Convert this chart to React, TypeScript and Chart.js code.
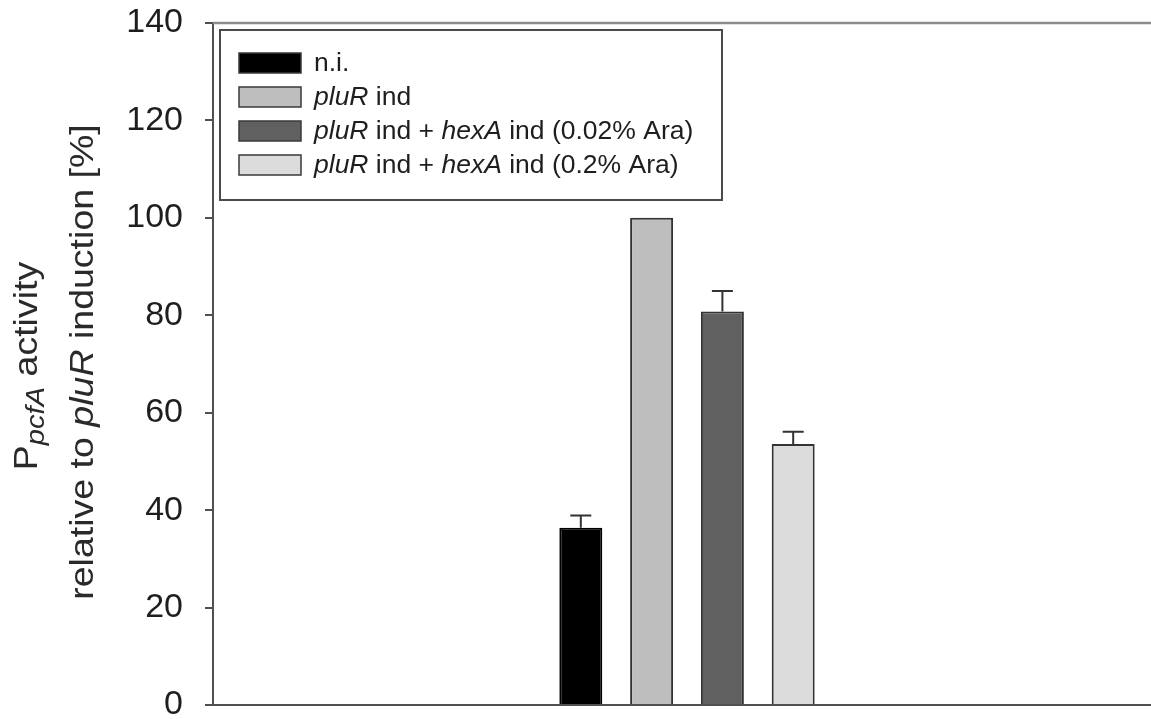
import React, { useEffect, useRef } from "react";
import { Chart, registerables } from "chart.js";

Chart.register(...registerables);

// ---- data ----
const categories = [""];
// "*...*" marks italic runs (gene names)
const seriesLabels = [
  "n.i.",
  "*pluR* ind",
  "*pluR* ind + *hexA* ind (0.02% Ara)",
  "*pluR* ind + *hexA* ind (0.2% Ara)",
];
const seriesValues = [36.4, 100, 80.8, 53.6];
const seriesErrors = [2.5, 0, 4.2, 2.5];
const seriesColors = ["#000000", "#bebebe", "#606060", "#dcdcdc"];
const yTicks = [0, 20, 40, 60, 80, 100, 120, 140];

// ---- styling / layout ----
const FONT = "'Liberation Sans', Arial, Helvetica, sans-serif";
const TEXT = "#1e1e1e";
const AXIS = "#505050";

type Seg = { text: string; italic: boolean };
function parseSegs(label: string): Seg[] {
  const parts = label.split("*");
  return parts
    .map((t, i) => ({ text: t, italic: i % 2 === 1 }))
    .filter((s) => s.text.length > 0);
}

function drawSegs(ctx: CanvasRenderingContext2D, segs: Seg[], x: number, y: number, size: number) {
  let cx = x;
  for (const s of segs) {
    ctx.font = `${s.italic ? "italic " : ""}${size}px ${FONT}`;
    ctx.fillText(s.text, cx, y);
    cx += ctx.measureText(s.text).width;
  }
}

const decorations = {
  id: "decorations",
  afterDatasetsDraw(chart: any) {
    const ctx: CanvasRenderingContext2D = chart.ctx;
    const area = chart.chartArea;
    const y = chart.scales.y;
    ctx.save();

    // frame lines: top (lighter) and bottom
    ctx.strokeStyle = "#8c8c8c";
    ctx.lineWidth = 2.5;
    ctx.beginPath();
    ctx.moveTo(area.left, area.top);
    ctx.lineTo(chart.width, area.top);
    ctx.stroke();

    ctx.strokeStyle = AXIS;
    ctx.lineWidth = 2;
    ctx.beginPath();
    ctx.moveTo(area.left - 8, area.bottom);
    ctx.lineTo(chart.width, area.bottom);
    ctx.stroke();

    // upward error bars
    ctx.strokeStyle = "#333333";
    ctx.lineWidth = 2;
    chart.data.datasets.forEach((ds: any, i: number) => {
      const err = seriesErrors[i];
      if (!err) return;
      const meta = chart.getDatasetMeta(i);
      meta.data.forEach((bar: any, j: number) => {
        const v = ds.data[j];
        const yTop = y.getPixelForValue(v + err);
        ctx.beginPath();
        ctx.moveTo(bar.x, bar.y);
        ctx.lineTo(bar.x, yTop);
        ctx.moveTo(bar.x - 10.5, yTop);
        ctx.lineTo(bar.x + 10.5, yTop);
        ctx.stroke();
      });
    });

    // legend box
    const lx = 220, ly = 30, lw = 502, lh = 170;
    ctx.fillStyle = "#ffffff";
    ctx.fillRect(lx, ly, lw, lh);
    ctx.strokeStyle = "#4a4a4a";
    ctx.lineWidth = 2;
    ctx.strokeRect(lx, ly, lw, lh);
    const rowY = [63, 97, 131, 165];
    chart.data.datasets.forEach((ds: any, i: number) => {
      const cy = rowY[i];
      ctx.fillStyle = seriesColors[i];
      ctx.fillRect(239, cy - 10, 62, 20);
      ctx.strokeStyle = "#3a3a3a";
      ctx.lineWidth = 1.5;
      ctx.strokeRect(239, cy - 10, 62, 20);
      ctx.fillStyle = TEXT;
      ctx.textBaseline = "middle";
      ctx.textAlign = "left";
      drawSegs(ctx, parseSegs(seriesLabels[i]), 314, cy + 1, 26.5);
    });

    // rotated y-axis title (two lines, with subscript and italics)
    ctx.fillStyle = "#2a2a2a";
    ctx.textAlign = "left";
    ctx.textBaseline = "alphabetic";
    const big = 33.5, sub = 26, stretch = 1.12;
    // line 1: P_pcfA activity
    const l1 = [
      { text: "P", italic: false, size: big, dy: 0 },
      { text: "pcfA", italic: true, size: sub, dy: 7 },
      { text: " activity", italic: false, size: big, dy: 0 },
    ];
    let w1 = 0;
    for (const s of l1) {
      ctx.font = `${s.italic ? "italic " : ""}${s.size}px ${FONT}`;
      w1 += ctx.measureText(s.text).width;
    }
    ctx.save();
    ctx.translate(37, 366);
    ctx.rotate(-Math.PI / 2);
    ctx.scale(stretch, 1);
    let cx = -w1 / 2;
    for (const s of l1) {
      ctx.font = `${s.italic ? "italic " : ""}${s.size}px ${FONT}`;
      ctx.fillText(s.text, cx, s.dy);
      cx += ctx.measureText(s.text).width;
    }
    ctx.restore();

    // line 2: relative to pluR induction [%]
    const l2 = parseSegs("relative to *pluR* induction [%]");
    let w2 = 0;
    for (const s of l2) {
      ctx.font = `${s.italic ? "italic " : ""}${big}px ${FONT}`;
      w2 += ctx.measureText(s.text).width;
    }
    ctx.save();
    ctx.translate(93, 362);
    ctx.rotate(-Math.PI / 2);
    ctx.scale(stretch, 1);
    drawSegs(ctx, l2, -w2 / 2, 0, big);
    ctx.restore();

    ctx.restore();
  },
};

export default function App() {
  const ref = useRef<HTMLCanvasElement | null>(null);

  useEffect(() => {
    document.body.style.margin = "0";
    const canvas = ref.current;
    if (!canvas) return;
    const chart = new Chart(canvas, {
      type: "bar",
      data: {
        labels: categories,
        datasets: seriesLabels.map((label, i) => ({
          label,
          data: [seriesValues[i]],
          backgroundColor: seriesColors[i],
          borderColor: i === 0 ? "#000000" : "#333333",
          borderWidth: 2,
          categoryPercentage: 0.2987,
          barPercentage: 0.607,
        })),
      },
      options: {
        animation: false,
        responsive: false,
        devicePixelRatio: 1,
        layout: { padding: { top: 23, bottom: 14, left: 0, right: 0 } },
        plugins: {
          legend: { display: false },
          tooltip: { enabled: false },
        },
        scales: {
          x: { display: false },
          y: {
            min: 0,
            max: 140,
            afterBuildTicks: (s: any) => {
              s.ticks = yTicks.map((v) => ({ value: v }));
            },
            afterFit: (s: any) => {
              s.width = 213;
              s.paddingTop = 0;
              s.paddingBottom = 0;
            },
            ticks: {
              font: { family: FONT, size: 34 },
              color: TEXT,
              padding: 22,
            },
            grid: {
              display: true,
              drawOnChartArea: false,
              drawTicks: true,
              tickLength: 8,
              color: AXIS,
              lineWidth: 2,
            },
            border: { display: true, color: AXIS, width: 2 },
          },
        },
      },
      plugins: [decorations],
    });
    return () => chart.destroy();
  }, []);

  return (
    <div style={{ width: 1151, height: 719, overflow: "hidden", position: "relative", background: "#fff" }}>
      <canvas ref={ref} width={1161} height={719} style={{ width: 1161, height: 719, display: "block" }} />
    </div>
  );
}
